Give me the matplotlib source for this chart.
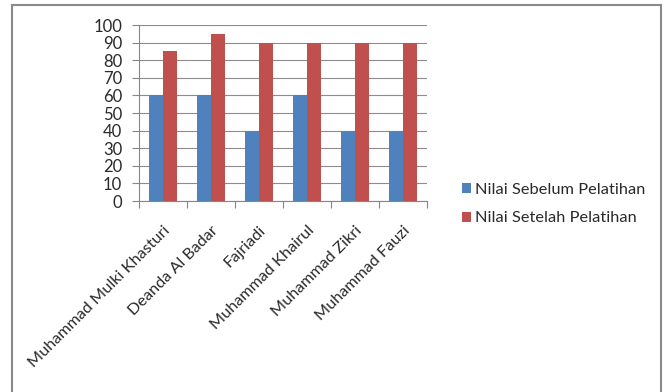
import matplotlib.pyplot as plt
import numpy as np
from matplotlib.lines import Line2D

names = ["Muhammad Mulki Khasturi", "Deanda Al Badar", "Fajriadi",
         "Muhammad Khairul", "Muhammad Zikri", "Muhammad Fauzi"]
sebelum = [60, 60, 40, 60, 40, 40]
setelah = [85, 95, 90, 90, 90, 90]
y_ticks = list(range(0, 101, 10))

plt.rcParams['font.family'] = ['Lato', 'DejaVu Sans']

fig = plt.figure(figsize=(6.65, 3.92), dpi=100)
ax = fig.add_axes([139 / 665, 1 - 201 / 392, 288 / 665, 176 / 392])

x = np.arange(len(names))
w = 1 / 3.5
ax.bar(x - w / 2, sebelum, w, color='#4F81BD', label='Nilai Sebelum Pelatihan', zorder=3)
ax.bar(x + w / 2, setelah, w, color='#C0504D', label='Nilai Setelah Pelatihan', zorder=3)

ax.set_xlim(-0.5, len(names) - 0.5)
ax.set_ylim(0, 100)
ax.set_yticks(y_ticks)
ax.tick_params(axis='y', labelsize=12, length=5, color='#868686', labelcolor='#2a2a2a', pad=7)
ax.yaxis.grid(True, color='#8c8c8c', linewidth=0.8, zorder=0)

# category boundaries as tick marks, names in between
ax.set_xticks(np.arange(-0.5, len(names)), minor=False)
ax.set_xticklabels([])
ax.tick_params(axis='x', length=5, color='#868686', direction='out')
ax.set_xticks(x, minor=True)
ax.set_xticklabels(names, minor=True, rotation=45, ha='right', va='top',
                   rotation_mode='anchor', fontsize=11.7, color='#2a2a2a')
ax.tick_params(axis='x', which='minor', length=0, pad=16)

for s in ['top', 'right']:
    ax.spines[s].set_visible(False)
for s in ['left', 'bottom']:
    ax.spines[s].set_color('#868686')
    ax.spines[s].set_linewidth(0.8)

fig.legend(loc='upper left', bbox_to_anchor=(447 / 665, 1 - 168 / 392),
           frameon=False, fontsize=11.8, handlelength=0.55, handleheight=0.55,
           handletextpad=0.25, labelspacing=0.9, labelcolor='#2a2a2a')

# chart border
bc = '#8a8a8a'
fig.add_artist(Line2D([12 / 665, 12 / 665], [0, 1 - 5 / 392], color=bc, lw=1.5))
fig.add_artist(Line2D([12 / 665, 661 / 665], [1 - 5 / 392, 1 - 5 / 392], color=bc, lw=1.5))
fig.add_artist(Line2D([661 / 665, 661 / 665], [0, 1 - 5 / 392], color=bc, lw=1.5))

fig.savefig('out.png', dpi=100)
